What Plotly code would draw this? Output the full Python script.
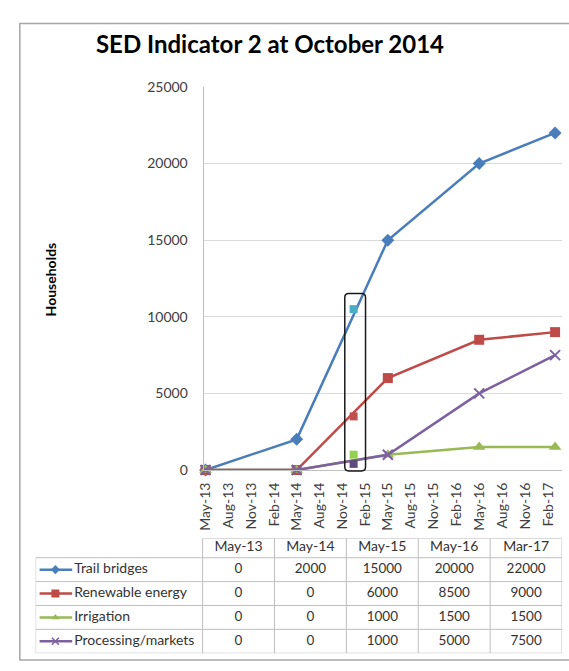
import plotly.graph_objects as go

W, H = 569, 671

# ---------------- data ----------------
dates = ["2013-05-01", "2014-05-01", "2015-05-01", "2016-05-01", "2017-03-01"]
table_months = ["May-13", "May-14", "May-15", "May-16", "Mar-17"]
series_names = ["Trail bridges", "Renewable energy", "Irrigation", "Processing/markets"]
trail_bridges = [0, 2000, 15000, 20000, 22000]
renewable_energy = [0, 0, 6000, 8500, 9000]
irrigation = [0, 0, 1000, 1500, 1500]
processing_markets = [0, 0, 1000, 5000, 7500]
status_date = "2014-12-15"
status_values = [10500, 3500, 1000, 400]
y_ticks = [0, 5000, 10000, 15000, 20000, 25000]

series_values = [trail_bridges, renewable_energy, irrigation, processing_markets]

# ---------------- styles ----------------
FONT = "Lato"
line_colors = ["#4A7EBB", "#BE4B48", "#98B954", "#7D60A0"]
status_colors = ["#4BACC6", "#C0504D", "#92D050", "#604A7B"]
symbols = ["diamond", "square", "triangle-up", "x-thin"]
msizes = [10, 10, 11, 10]
key_sizes = [7, 8, 7, 7]
grid_col = "#d9d9d9"
tbl_line = "#bfbfbf"
txt_col = "#333333"


def fx(px):
    return px / W


def fy(py):
    return 1 - py / H


fig = go.Figure()

# main series
for name, vals, col, sym, ms in zip(series_names, series_values, line_colors, symbols, msizes):
    marker = dict(symbol=sym, size=ms, color=col)
    if sym == "x-thin":
        marker["line"] = dict(width=2, color=col)
    fig.add_trace(go.Scatter(
        x=dates, y=vals, name=name, mode="lines+markers",
        line=dict(color=col, width=2.5), marker=marker,
        cliponaxis=False, showlegend=False, xaxis="x", yaxis="y"))

# status points (October 2014)
fig.add_trace(go.Scatter(
    x=[status_date] * len(status_values), y=status_values, mode="markers",
    marker=dict(symbol="square", size=8, color=status_colors),
    cliponaxis=False, showlegend=False, xaxis="x", yaxis="y"))

# ---------------- data table (own subplot) ----------------
COLW = (562 - 198) / 5.0
LBL = (198 - 29) / COLW          # label column width in column units
HDR = 20 / 24.5                  # header row height in body-row units
n_rows = len(series_names)
n_cols = len(table_months)

# header text
fig.add_trace(go.Scatter(
    x=[j + 0.5 for j in range(n_cols)], y=[-HDR / 2] * n_cols, text=table_months,
    mode="text", textfont=dict(family=FONT, size=14, color=txt_col),
    showlegend=False, hoverinfo="skip", xaxis="x2", yaxis="y2"))

# body values
for i, vals in enumerate(series_values):
    fig.add_trace(go.Scatter(
        x=[j + 0.5 for j in range(n_cols)], y=[i + 0.5] * n_cols,
        text=[str(v) for v in vals], mode="text",
        textfont=dict(family=FONT, size=13.5, color=txt_col),
        showlegend=False, hoverinfo="skip", xaxis="x2", yaxis="y2"))

# row labels
fig.add_trace(go.Scatter(
    x=[-LBL + 39 / COLW] * n_rows, y=[i + 0.5 for i in range(n_rows)],
    text=series_names, mode="text", textposition="middle right",
    textfont=dict(family=FONT, size=14, color=txt_col),
    showlegend=False, hoverinfo="skip", xaxis="x2", yaxis="y2"))

# legend keys
for i, (col, sym, ks) in enumerate(zip(line_colors, symbols, key_sizes)):
    fig.add_trace(go.Scatter(
        x=[-LBL + 4 / COLW, -LBL + 37 / COLW], y=[i + 0.5, i + 0.5], mode="lines",
        line=dict(color=col, width=2.5), showlegend=False, hoverinfo="skip",
        xaxis="x2", yaxis="y2"))
    mk = dict(symbol=sym, size=ks, color=col)
    if sym == "x-thin":
        mk["line"] = dict(width=1.5, color=col)
    fig.add_trace(go.Scatter(
        x=[-LBL + 20 / COLW], y=[i + 0.5], mode="markers", marker=mk,
        showlegend=False, hoverinfo="skip", xaxis="x2", yaxis="y2"))

shapes = []
# table grid lines
shapes.append(dict(type="line", xref="x2", yref="y2", x0=0, x1=n_cols, y0=-HDR, y1=-HDR,
                   line=dict(color=tbl_line, width=1)))
for r in range(n_rows + 1):
    shapes.append(dict(type="line", xref="x2", yref="y2", x0=-LBL, x1=n_cols, y0=r, y1=r,
                       line=dict(color=tbl_line, width=1)))
shapes.append(dict(type="line", xref="x2", yref="y2", x0=-LBL, x1=-LBL, y0=0, y1=n_rows,
                   line=dict(color=tbl_line, width=1)))
for c in range(n_cols + 1):
    shapes.append(dict(type="line", xref="x2", yref="y2", x0=c, x1=c, y0=-HDR, y1=n_rows,
                       line=dict(color=tbl_line, width=1)))

# outer chart frame
shapes.append(dict(type="rect", xref="paper", yref="paper", x0=fx(13), x1=fx(580),
                   y0=fy(668), y1=fy(15), line=dict(color="#a6a6a6", width=1.5),
                   layer="below"))

# rounded highlight box around the October 2014 points
bx0, bx1, by0, by1, r = 342, 363, 292, 474, 4
path = (f"M {fx(bx0 + r)},{fy(by0)} L {fx(bx1 - r)},{fy(by0)} "
        f"Q {fx(bx1)},{fy(by0)} {fx(bx1)},{fy(by0 + r)} "
        f"L {fx(bx1)},{fy(by1 - r)} Q {fx(bx1)},{fy(by1)} {fx(bx1 - r)},{fy(by1)} "
        f"L {fx(bx0 + r)},{fy(by1)} Q {fx(bx0)},{fy(by1)} {fx(bx0)},{fy(by1 - r)} "
        f"L {fx(bx0)},{fy(by0 + r)} Q {fx(bx0)},{fy(by0)} {fx(bx0 + r)},{fy(by0)} Z")
shapes.append(dict(type="path", xref="paper", yref="paper", path=path,
                   line=dict(color="#1a1a1a", width=1.5)))

fig.update_layout(
    width=W, height=H,
    margin=dict(l=0, r=0, t=0, b=0),
    paper_bgcolor="white", plot_bgcolor="white",
    font=dict(family=FONT, size=13, color="#404040"),
    showlegend=False,
    title=dict(text="<b>SED Indicator 2 at October 2014</b>", x=fx(270), y=fy(45),
               xanchor="center", yanchor="middle",
               font=dict(family=FONT, size=24, color="#000000")),
    xaxis=dict(
        type="date", domain=[fx(199), fx(562)],
        range=["2013-04-23", "2017-03-29"],
        tickmode="linear", tick0="2013-05-01", dtick="M3", tickformat="%b-%y",
        tickangle=-90, showgrid=False, zeroline=False,
        showline=True, linecolor=tbl_line, linewidth=1, ticks="",
        ticklabelstandoff=6,
        tickfont=dict(family=FONT, size=14, color="#404040"),
        anchor="y", fixedrange=True),
    yaxis=dict(
        domain=[fy(473), fy(80)], range=[0, 25000], tickvals=y_ticks, tickformat="d",
        showgrid=True, gridcolor=grid_col, gridwidth=1, zeroline=False,
        showline=True, linecolor=tbl_line, linewidth=1, ticks="",
        ticklabelstandoff=12,
        tickfont=dict(family=FONT, size=14, color="#404040"),
        anchor="x", fixedrange=True),
    xaxis2=dict(domain=[fx(29), fx(562)], range=[-LBL, n_cols], visible=False,
                anchor="y2", fixedrange=True),
    yaxis2=dict(domain=[fy(661), fy(543)], range=[n_rows, -HDR], visible=False,
                anchor="x2", fixedrange=True),
    shapes=shapes,
    annotations=[dict(text="<b>Households</b>", x=fx(45), y=fy(277), xref="paper", yref="paper",
                      textangle=-90, showarrow=False, xanchor="center", yanchor="middle",
                      font=dict(family=FONT, size=14, color="#000000"))],
)

fig.write_html(
    "out.html",
    config={"displayModeBar": False},
    post_script="document.documentElement.style.margin='0';document.body.style.margin='0';"
                "document.documentElement.style.overflow='hidden';"
                "document.body.style.overflow='hidden';",
)
